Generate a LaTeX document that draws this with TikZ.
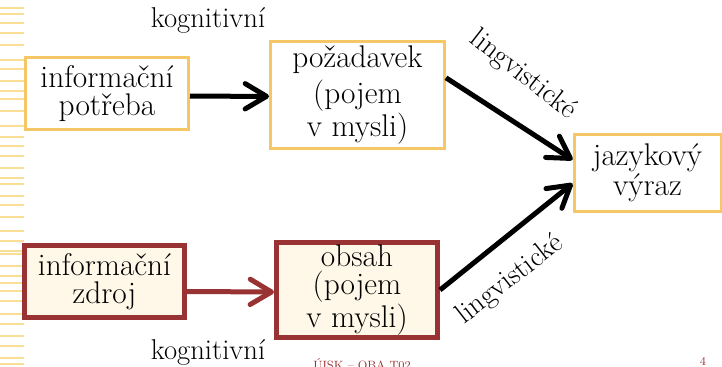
\documentclass[tikz,border=0pt]{standalone}
\usepackage{tikz}
\usetikzlibrary{arrows.meta}
\definecolor{myyellow}{RGB}{245,199,102}
\definecolor{mystripe}{RGB}{250,222,150}
\definecolor{myred}{RGB}{153,50,50}
\definecolor{mycream}{RGB}{255,248,232}
\newcommand{\myboxfont}{\fontsize{23.5}{21}\selectfont}
\newcommand{\mylabelfont}{\fontsize{21.5}{21.5}\selectfont}
\newcommand{\myfootfont}{\fontsize{9}{9}\selectfont}

\begin{document}
\begin{tikzpicture}[x = .75pt, y = -.75pt,
  yellowbox/.style = {draw = myyellow, line width = 2.25pt, fill = white, align = center, inner sep = 0pt, font = \myboxfont},
  redbox/.style = {draw = myred, line width = 3.75pt, fill = mycream, align = center, inner sep = 0pt, font = \myboxfont},
  myarrow/.style = {line width = 3.75pt, -{Straight Barb[length = 16pt, width = 19pt, round]}},
  ]
\useasboundingbox (0,0) rectangle (722,367);
\foreach \y in {7,13,22,32,44,59,68,80,90,98,110,125,136,145,155,167,177,183,195,204,216,230,240,250,253,265,275,282,290,300,313,323,335,345,357,363}
  \fill[mystripe] (0,\y) rectangle (24,\y+1.6);

\node[yellowbox, minimum width = 163*0.75pt, minimum height = 72*0.75pt] (potreba) at (107,93.5) {informační\\potřeba};
\node[yellowbox, minimum width = 174*0.75pt, minimum height = 107*0.75pt] (pozadavek) at (357.5,95) {požadavek\\[4pt](pojem\\v mysli)};
\node[yellowbox, minimum width = 147*0.75pt, minimum height = 77*0.75pt] (vyraz) at (647.5,173) {jazykový\\výraz};
\node[redbox, minimum width = 160*0.75pt, minimum height = 72*0.75pt] (zdroj) at (104.5,281.5) {informační\\zdroj};
\node[redbox, minimum width = 161*0.75pt, minimum height = 95*0.75pt] (obsah) at (357,290) {obsah\\(pojem\\v mysli)};

\draw[myarrow] ([yshift = -2pt]potreba.east) -- ([yshift = -1pt]pozadavek.west);
\draw[myarrow, myred] ([yshift = -7.5pt]zdroj.east) -- ([yshift = -1.5pt]obsah.west);
\draw[myarrow] (pozadavek.11) -- (vyraz.170);
\draw[myarrow] (obsah.east) -- (vyraz.188);

\node[font = \mylabelfont] (kogtop) at (208,20) {kognitivní};
\node[font = \mylabelfont] (kogbot) at (208,352) {kognitivní};
\node[font = \mylabelfont, rotate = -38] (lingtop) at (523,75) {lingvistické};
\node[font = \mylabelfont, rotate = 38] (lingbot) at (510,280) {lingvistické};

\node[font = \myfootfont, text = myred, anchor = base] (footer) at (362,369) {ÚISK – OBA T02};
\node[font = \myfootfont, text = myred, anchor = base] (pagenum) at (703,365.5) {4};
\end{tikzpicture}
\end{document}
